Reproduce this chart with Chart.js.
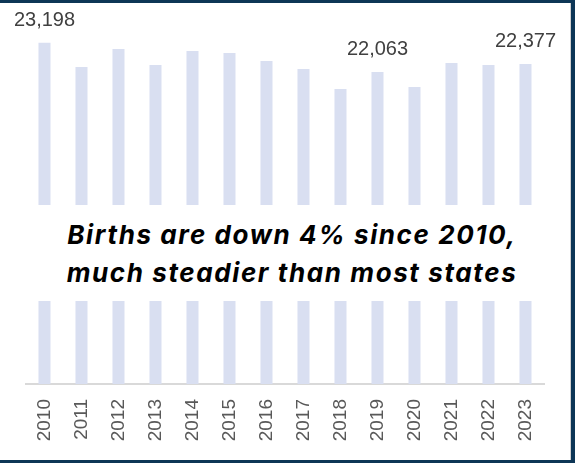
<!DOCTYPE html>
<html>
<head>
<meta charset="utf-8">
<script src="https://cdn.jsdelivr.net/npm/chart.js@4.4.1/dist/chart.umd.min.js"></script>
<style>
  html, body { margin: 0; padding: 0; background: #fff; }
  #frame {
    position: relative;
    width: 575px; height: 463px;
    box-sizing: border-box;
    border-style: solid;
    border-color: #0d3656;
    border-width: 3px 4px 3px 0;
    box-shadow: inset -1px 0 0 #d0d0d0;
  }
  #chartBox { position: absolute; left: 0; top: 0; width: 570px; height: 457px; }
  #headline {
    position: absolute;
    left: 0; top: 202px; width: 570px; height: 96px;
    background: #fff;
    box-sizing: border-box;
    padding: 11px 0 0 14px;
    text-align: center;
    font-family: Inter, "Liberation Sans", sans-serif;
    font-weight: 700; font-style: italic;
    font-size: 26px; line-height: 38px;
    letter-spacing: 1.6px;
    color: #000;
  }
</style>
</head>
<body>
<div id="frame">
  <div id="chartBox"><canvas id="births"></canvas></div>
  <div id="headline">Births are down 4% since 2010,<br>much steadier than most states</div>
</div>
<script>
const years = ['2010', '2011', '2012', '2013', '2014', '2015', '2016', '2017', '2018', '2019', '2020', '2021', '2022', '2023'];
const births = [23198, 22261, 22959, 22338, 22882, 22804, 22494, 22183, 21407, 22063, 21485, 22416, 22338, 22377];
// only these bars get a number on top
const labelled = [0, 9, 13];

// value labels above selected bars
const barLabels = {
    id: 'barLabels',
    afterDatasetsDraw(chart) {
        const { ctx } = chart;
        const meta = chart.getDatasetMeta(0);
        ctx.save();
        ctx.fillStyle = '#404040';
        ctx.font = '20px "Liberation Sans", Arial, sans-serif';
        ctx.textAlign = 'center';
        ctx.textBaseline = 'alphabetic';
        labelled.forEach((i) => {
            const bar = meta.data[i];
            ctx.fillText(births[i].toLocaleString('en-US'), bar.x, bar.y - 17);
        });
        ctx.restore();
    },
};

new Chart(document.getElementById('births'), {
    type: 'bar',
    data: {
        labels: years,
        datasets: [{
            data: births,
            backgroundColor: '#d9dff1',
            barPercentage: 0.65,
            categoryPercentage: 0.5,
        }],
    },
    options: {
        responsive: true,
        maintainAspectRatio: false,
        animation: false,
        layout: { padding: { left: 26, right: 26, top: 19, bottom: 0 } },
        plugins: {
            legend: { display: false },
            tooltip: { enabled: false },
        },
        scales: {
            x: {
                grid: { display: false, drawTicks: false },
                border: { display: true, color: '#d9d9d9', width: 2 },
                ticks: {
                    color: '#595959',
                    font: { family: '"Liberation Sans", Arial, sans-serif', size: 19 },
                    minRotation: 90,
                    maxRotation: 90,
                    padding: 15,
                },
                afterFit: (scale) => { scale.height = 76; },
            },
            y: {
                display: false,
                min: 10000,
                max: 24000,
            },
        },
    },
    plugins: [barLabels],
});
</script>
</body>
</html>
